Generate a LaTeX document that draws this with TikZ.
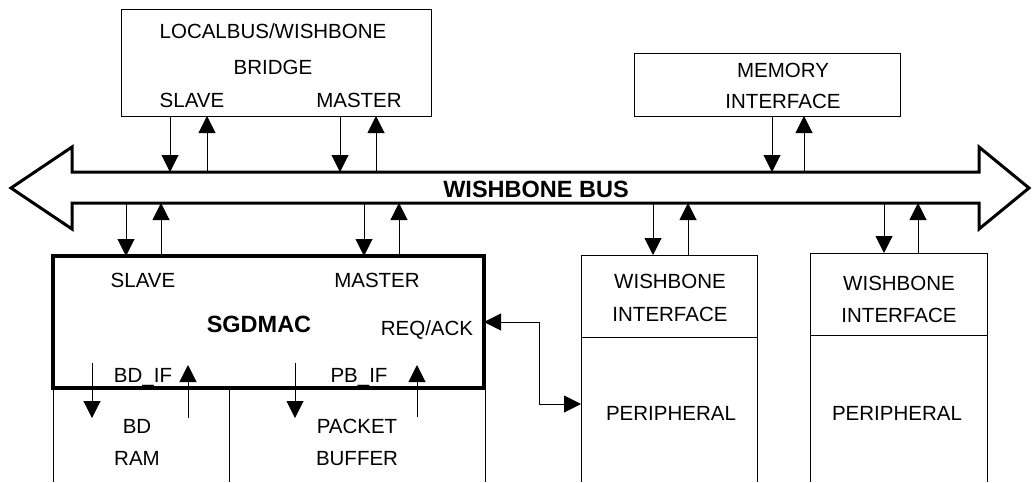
\documentclass[tikz,border=0pt]{standalone}
\usepackage{fontspec}
\setmainfont{Liberation Sans}
\usetikzlibrary{arrows.meta}
\begin{document}
\begin{tikzpicture}[x=1pt,y=-1pt,
  box/.style={draw, line width=1pt, inner sep=0pt, outer sep=0pt, anchor=north west},
  openbox/.style={inner sep=0pt, outer sep=0pt, anchor=north west},
  lbl/.style={font=\fontsize{20.5}{22}\selectfont, inner sep=0pt, anchor=base},
  blbl/.style={font=\fontsize{23.5}{25}\selectfont\bfseries, inner sep=0pt, anchor=base},
  arr/.style={-{Triangle[width=17pt,length=17pt]}, line width=1pt},
  darr/.style={{Triangle[width=17pt,length=17pt]}-{Triangle[width=17pt,length=17pt]}, line width=1pt}]
\useasboundingbox (0,0) rectangle (1032,482);

% bus
\draw[line width=3pt, line join=miter] (11,188) -- (72,147) -- (72,172) -- (979,172) -- (979,147) -- (1029,188)
  -- (979,229) -- (979,203) -- (72,203) -- (72,229) -- cycle;
\coordinate (busT) at (0,172);
\coordinate (busB) at (0,203);
\node[blbl] (busl) at (536,197) {WISHBONE BUS};

% bridge
\node[box, minimum width=310pt, minimum height=107pt] (bridge) at (121,9) {};
\node[lbl] (brt1) at (273,38) {LOCALBUS/WISHBONE};
\node[lbl] (brt2) at (273,74) {BRIDGE};
\node[lbl] (brs) at (192,107) {SLAVE};
\node[lbl] (brm) at (359,107) {MASTER};

% memory interface
\node[box, minimum width=266pt, minimum height=63pt] (mem) at (634,53) {};
\node[lbl] (mt1) at (783,77) {MEMORY};
\node[lbl] (mt2) at (783,108) {INTERFACE};

% SGDMAC
\node[draw, line width=3.5pt, inner sep=0pt, outer sep=0pt, anchor=north west, minimum width=431pt, minimum height=132pt] (sgd) at (53,256) {};
\node[lbl] (ss) at (143,287) {SLAVE};
\node[lbl] (sm) at (377,287) {MASTER};
\node[blbl] (sname) at (259,332) {SGDMAC};
\node[lbl] (sreq) at (427,335) {REQ/ACK};
\node[lbl] (sbd) at (143,382) {BD\_IF};
\node[lbl] (spb) at (359,382) {PB\_IF};

% BD RAM and packet buffer
\node[openbox, minimum width=176pt, minimum height=94pt] (bdram) at (53,388) {};
\node[openbox, minimum width=256pt, minimum height=94pt] (pbuf) at (229,388) {};
\draw[line width=1pt] (bdram.south west) -- (bdram.north west) -- (pbuf.north east) -- (pbuf.south east);
\draw[line width=1pt] (pbuf.north west) -- (pbuf.south west);
\node[lbl] (bd1) at (137,433) {BD};
\node[lbl] (bd2) at (137,465) {RAM};
\node[lbl] (pb1) at (357,433) {PACKET};
\node[lbl] (pb2) at (357,465) {BUFFER};

% peripheral 1
\node[box, minimum width=176pt, minimum height=82pt] (wb1) at (581,255) {};
\node[openbox, minimum width=176pt, minimum height=145pt] (per1) at (581,337) {};
\draw[line width=1pt] (per1.south west) -- (per1.north west);
\draw[line width=1pt] (per1.south east) -- (per1.north east);
\node[lbl] (w1a) at (670,288) {WISHBONE};
\node[lbl] (w1b) at (670,321) {INTERFACE};
\node[lbl] (p1) at (671,420) {PERIPHERAL};

% peripheral 2
\node[box, minimum width=177pt, minimum height=82pt] (wb2) at (810,253) {};
\node[openbox, minimum width=177pt, minimum height=147pt] (per2) at (810,335) {};
\draw[line width=1pt] (per2.south west) -- (per2.north west);
\draw[line width=1pt] (per2.south east) -- (per2.north east);
\node[lbl] (w2a) at (899,290) {WISHBONE};
\node[lbl] (w2b) at (899,322) {INTERFACE};
\node[lbl] (p2) at (897,420) {PERIPHERAL};

% bridge <-> bus
\draw[arr] (bridge.south -| 170,0) -- (busT -| 170,0);
\draw[arr] (busT -| 207,0) -- (bridge.south -| 207,0);
\draw[arr] (bridge.south -| 340,0) -- (busT -| 340,0);
\draw[arr] (busT -| 376,0) -- (bridge.south -| 376,0);
% memory <-> bus
\draw[arr] (mem.south -| 772,0) -- (busT -| 772,0);
\draw[arr] (busT -| 804,0) -- (mem.south -| 804,0);
% bus <-> sgdmac
\draw[arr] (busB -| 126,0) -- (sgd.north -| 126,0);
\draw[arr] (sgd.north -| 161,0) -- (busB -| 161,0);
\draw[arr] (busB -| 364,0) -- (sgd.north -| 364,0);
\draw[arr] (sgd.north -| 399,0) -- (busB -| 399,0);
% bus <-> peripherals
\draw[arr] (busB -| 653,0) -- (wb1.north -| 653,0);
\draw[arr] (wb1.north -| 688,0) -- (busB -| 688,0);
\draw[arr] (busB -| 884,0) -- (wb2.north -| 884,0);
\draw[arr] (wb2.north -| 918,0) -- (busB -| 918,0);
% BD_IF / PB_IF
\draw[arr] (92,363) -- (92,418);
\draw[arr] (188,418) -- (188,365);
\draw[arr] (295,363) -- (295,418);
\draw[arr] (417,417) -- (417,365);
% REQ/ACK
\draw[darr] (sgd.east) -- (539,322) -- (539,404) -- (per1.west |- 0,404);
\end{tikzpicture}
\end{document}
